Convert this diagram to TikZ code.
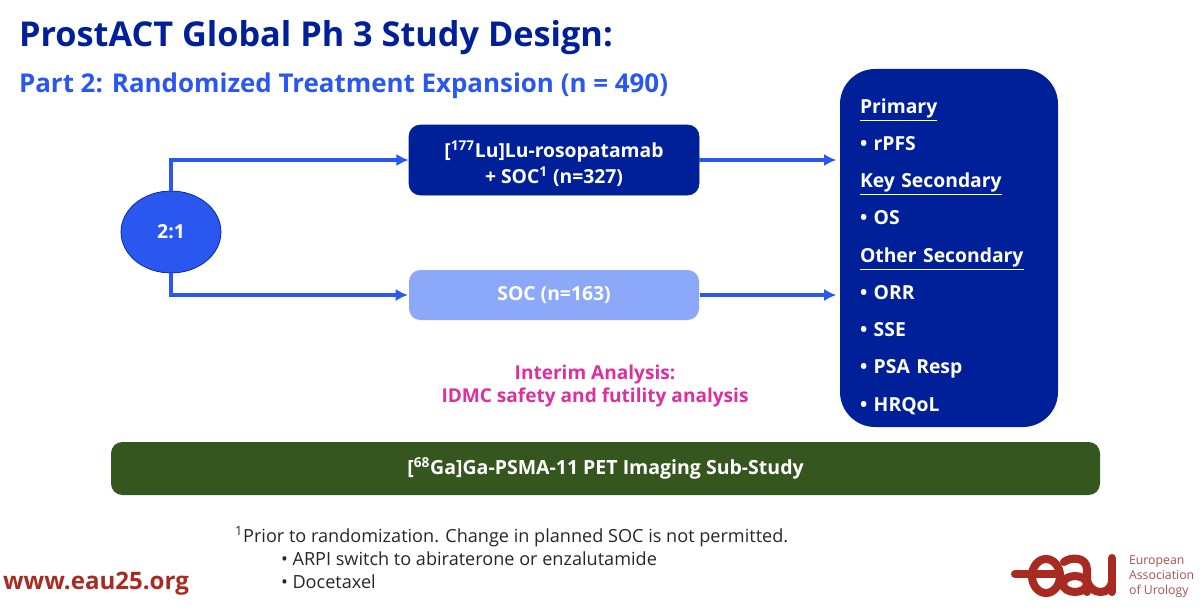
\documentclass[tikz,border=0pt]{standalone}
\usepackage{fontspec}
\setmainfont{Open Sans}
\usetikzlibrary{shapes.geometric, arrows.meta}

\definecolor{navy}{HTML}{00209A}
\definecolor{midblue}{HTML}{2957F0}
\definecolor{paleblue}{HTML}{8CA8F8}
\definecolor{leaf}{HTML}{35561F}
\definecolor{magenta2}{HTML}{DE2F9F}
\definecolor{eaured}{HTML}{A92A20}
\definecolor{eaugrey}{HTML}{A8504A}

\begin{document}
\begin{tikzpicture}[
very thick,
font=\bfseries,
arm/.style={draw=midblue, line width=1.8pt, -{Latex[length=7pt,width=7pt]}},
logo/.style={draw=eaured, line width=4.6pt, line cap=round},
]
\tikzset{
	arm box/.style={rounded corners=6.5pt, minimum width=5.8cm, align=center, text=white, font=\bfseries\fontsize{11}{14.8}\selectfont},
	foot/.style={anchor=base west, font=\fontsize{10.3}{12}\selectfont, text=black!85},
}
\useasboundingbox (0,0) rectangle (24,12.2);

% headings
\node[anchor=base west, inner sep=0, text=navy, font=\bfseries\fontsize{19.5}{22}\selectfont] (title) at (.36,11.26) {ProstACT Global Ph 3 Study Design:};
\node[anchor=base west, inner sep=0, text=midblue, font=\bfseries\fontsize{14.75}{18}\selectfont] (subtitle) at (.36,10.35) {Part 2: Randomized Treatment Expansion (n = 490)};

% arms
\node[ellipse, draw=navy, thin, fill=midblue, minimum width=2cm, minimum height=1.64cm, text=white, font=\bfseries\fontsize{11}{12}\selectfont] (ratio) at (3.42,7.56) {2:1};
\node[arm box, draw=navy, thin, fill=navy, minimum height=1.4cm] (lu) at (11.08,9) {\rule{0pt}{14pt}[\textsuperscript{177}Lu]Lu-rosopatamab\\+ SOC\textsuperscript{1} (n=327)};
\node[arm box, fill=paleblue, minimum height=1cm] (soc) at (11.08,6.3) {SOC (n=163)};

% endpoints
\node[rounded corners=20pt, fill=navy, text=white, minimum height=7.16cm, text width=3.56cm, inner xsep=.4cm, align=left, font=\bfseries\fontsize{11}{21.2}\selectfont] (endpoints) at (18.98,7.24) {\rule{0pt}{18pt}\underline{Primary}\\• rPFS\\\underline{Key Secondary}\\• OS\\\underline{Other Secondary}\\• ORR\\• SSE\\• PSA Resp\\• HRQoL};

\draw[arm] (ratio.north) |- (lu.west);
\draw[arm] (ratio.south) |- (soc.west);
\draw[arm, shorten >=1.5pt] (lu.east) -- (lu.east -| endpoints.west);
\draw[arm, shorten >=1.5pt] (soc.east) -- (soc.east -| endpoints.west);

\node[align=center, text=magenta2, font=\bfseries\fontsize{10.85}{13.6}\selectfont] (interim) at (11.9,4.48) {Interim Analysis:\\IDMC safety and futility analysis};

\node[rounded corners=6.5pt, fill=leaf, text=white, minimum width=19.78cm, minimum height=1.06cm, font=\bfseries\fontsize{11.1}{12}\selectfont] (pet) at (12.11,2.83) {[\textsuperscript{68}Ga]Ga-PSMA-11 PET Imaging Sub-Study};

% footnote
\node[foot, inner sep=0] (note1) at (4.68,1.36) {\textsuperscript{1}Prior to randomization. Change in planned SOC is not permitted.};
\node[foot, inner sep=0] (note2) at (5.6,.89) {• ARPI switch to abiraterone or enzalutamide};
\node[foot, inner sep=0] (note3) at (5.6,.44) {• Docetaxel};

\node[anchor=base west, inner sep=0, text=eaured, font=\bfseries\fontsize{13.7}{14}\selectfont] (site) at (.04,.42) {www.eau25.org};

% logo
\draw[logo] (20.3,.72) -- (21.2,.72);
\draw[logo] (20.92,.68) ellipse (.28 and .34);
\draw[logo] (21.5,.52) ellipse (.24 and .16);
\draw[logo] (21.28,.96) .. controls (21.4,1.06) and (21.74,1.08) .. (21.74,.8) -- (21.74,.36);
\draw[logo] (21.74,.6) .. controls (21.8,.28) and (22.24,.28) .. (22.24,.6);
\draw[logo] (22.24,1.04) -- (22.24,.36);
\node[anchor=west, inner sep=0, align=left, text=eaugrey, font=\fontsize{7}{8.5}\selectfont\mdseries] (eau) at (22.56,.66) {European\\Association\\of Urology};
\end{tikzpicture}
\end{document}
